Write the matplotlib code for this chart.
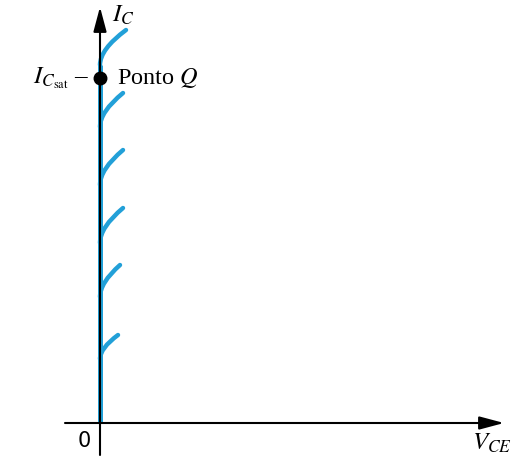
import matplotlib
matplotlib.use("Agg")
import matplotlib.pyplot as plt
from matplotlib.path import Path
from matplotlib.patches import PathPatch

plt.rcParams["font.family"] = "Liberation Serif"
plt.rcParams["mathtext.fontset"] = "stix"

# Saturation-region collector curves, bottom to top
# end point of each curve (V_CE, I_C)
tip_v = [0.45, 0.5, 0.575, 0.575, 0.575, 0.65]
tip_i = [2.2, 3.95, 5.375, 6.825, 8.25, 9.825]
# I_C where each curve leaves the vertical axis
base_i = [1.6, 3.15, 4.5, 5.95, 7.4, 8.95]

# operating point at saturation
q_v, q_i = 0.0, 8.625

blue = "#22a0d8"

fig = plt.figure(figsize=(5.24, 4.62), dpi=100)
ax = fig.add_axes([0, 0, 1, 1])
ax.set_xlim(-2.5, 10.6)
ax.set_ylim(-0.975, 10.575)
ax.axis("off")

# vertical blue trace along the I_C axis up to the top curve
ax.plot([0, 0], [0, base_i[-1]], color=blue, lw=3.6, solid_capstyle="butt", zorder=2)

# each curve: quadratic bezier leaving the axis vertically
for tv, ti, bi in zip(tip_v, tip_i, base_i):
    ctrl = bi + 0.45 * (ti - bi)
    verts = [(0, bi), (0, ctrl), (tv, ti)]
    codes = [Path.MOVETO, Path.CURVE3, Path.CURVE3]
    ax.add_patch(PathPatch(Path(verts, codes), fill=False, ec=blue, lw=3.2,
                           capstyle="round", zorder=2))

# axes with arrow heads
arrow = dict(arrowstyle="-|>,head_length=0.75,head_width=0.2", color="black",
             lw=1.5, shrinkA=0, shrinkB=0, mutation_scale=20)
ax.annotate("", xy=(0, 10.4), xytext=(0, -0.8), arrowprops=arrow, zorder=3)
ax.annotate("", xy=(10.1, 0), xytext=(-0.875, 0), arrowprops=arrow, zorder=3)

# Q point
ax.plot(q_v, q_i, "o", color="black", ms=9, zorder=4)

ax.text(-0.4, -0.45, "0", fontsize=15, ha="center", va="center", family="DejaVu Sans")
ax.text(0.3, 10.2, r"$I_C$", fontsize=18, ha="left", va="center")
ax.text(9.3, -0.5, r"$V_{CE}$", fontsize=18, ha="left", va="center")
ax.text(-0.25, q_i, r"$I_{C_{\mathrm{sat}}}$ –", fontsize=18, ha="right", va="center")
ax.text(0.43, q_i, r"Ponto $Q$", fontsize=17.5, ha="left", va="center")

fig.savefig("out.png", dpi=100)
